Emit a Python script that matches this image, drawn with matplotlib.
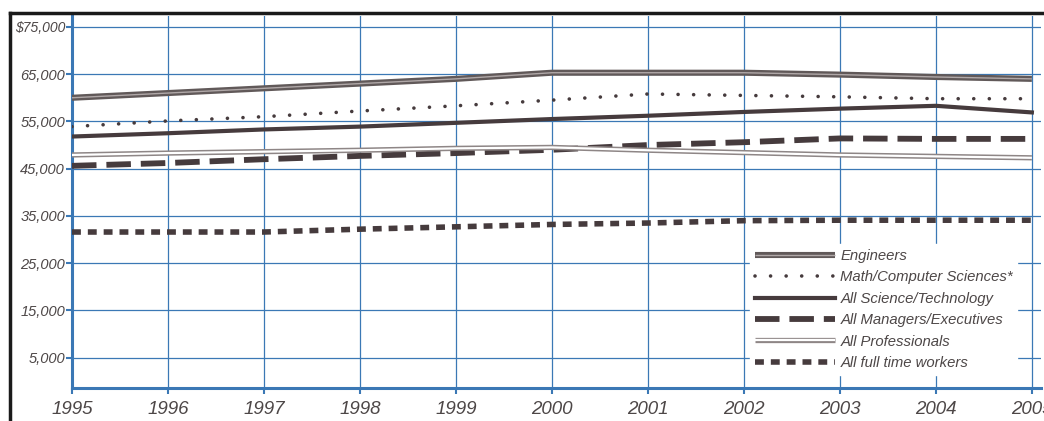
import matplotlib.pyplot as plt
import matplotlib.patheffects as pe
from matplotlib.lines import Line2D

years = [1995, 1996, 1997, 1998, 1999, 2000, 2001, 2002, 2003, 2004, 2005]
engineers = [60000, 61000, 62000, 63000, 64000, 65300, 65300, 65300, 64900, 64400, 64000]
math_cs = [53900, 55100, 56000, 57200, 58300, 59500, 60800, 60500, 60200, 59800, 59800]
sci_tech = [51800, 52500, 53300, 53900, 54700, 55500, 56200, 57000, 57700, 58300, 56900]
managers = [45600, 46200, 47000, 47700, 48300, 49000, 50000, 50600, 51400, 51300, 51300]
professionals = [47900, 48300, 48600, 48900, 49300, 49500, 48900, 48400, 47900, 47600, 47300]
all_workers = [31600, 31600, 31600, 32200, 32700, 33200, 33500, 34000, 34100, 34100, 34100]

labels = ["Engineers", "Math/Computer Sciences*", "All Science/Technology",
          "All Managers/Executives", "All Professionals", "All full time workers"]
yticks = [5000, 15000, 25000, 35000, 45000, 55000, 65000, 75000]

plt.rcParams['font.family'] = ['Liberation Sans', 'DejaVu Sans']
blue = "#3b78b5"
dark = "#463b3d"
txt = "#4d4747"

fig = plt.figure(figsize=(10.44, 4.21), dpi=100)
ax = fig.add_axes([72/1044, 33/421, (1041-72)/1044, (388-16)/421])

ax.set_xlim(1995, 2005.095)
ax.set_ylim(-1400, 77300)

# grid
for y in yticks:
    ax.axhline(y, color=blue, lw=0.9, zorder=1)
for x in years[1:]:
    ax.axvline(x, color=blue, lw=0.9, zorder=1)

# series
ax.plot(years, engineers, color="#b0a8a8", lw=1.0, zorder=3, solid_capstyle='butt',
        path_effects=[pe.Stroke(linewidth=4.4, foreground="#615959"), pe.Normal()],
        label=labels[0])
ax.plot(years, math_cs, color=dark, lw=2.6, ls=(0, (0.01, 4.3)), dash_capstyle='round',
        zorder=3, label=labels[1])
ax.plot(years, sci_tech, color=dark, lw=3.0, zorder=3, label=labels[2])
ax.plot(years, managers, color=dark, lw=4.2, ls=(0, (4.2, 1.7)), dash_capstyle='butt',
        zorder=3, label=labels[3])
ax.plot(years, professionals, color="white", lw=1.6, zorder=3, solid_capstyle='butt',
        path_effects=[pe.Stroke(linewidth=3.8, foreground="#8e8686"), pe.Normal()],
        label=labels[4])
ax.plot(years, all_workers, color=dark, lw=4.0, ls=(0, (1.6, 1.25)), dash_capstyle='butt',
        zorder=3, label=labels[5])

# axes
for s in ["top", "right"]:
    ax.spines[s].set_visible(False)
ax.spines["left"].set_color(blue)
ax.spines["left"].set_linewidth(2.2)
ax.spines["bottom"].set_color(blue)
ax.spines["bottom"].set_linewidth(2.2)

ax.set_xticks(years)
ax.set_xticklabels([str(y) for y in years], fontsize=13.5, style='italic', color=txt)
ax.set_yticks(yticks)
ax.set_yticklabels([f"{v:,}" for v in yticks[:-1]] + ["$75,000"], fontsize=10.5,
                   style='italic', color=txt)
ax.tick_params(axis='both', colors=blue, length=4, width=1.5, labelcolor=txt)
ax.tick_params(axis='y', pad=1)
ax.tick_params(axis='x', pad=5)
ax.get_yticklabels()[-1].set_fontsize(10)

leg = ax.legend(loc='upper left', bbox_to_anchor=(743/1044, 1 - 237/421),
                bbox_transform=fig.transFigure, frameon=True, fancybox=False,
                edgecolor='white', facecolor='white', framealpha=1,
                prop={'style': 'italic', 'size': 10.7}, handlelength=5.4,
                handletextpad=0.35, labelspacing=0.5, borderpad=0.3)
for t in leg.get_texts():
    t.set_color(txt)
leg.set_zorder(5)

# black frame
fig.add_artist(Line2D([10/1044, 10/1044], [0, 1 - 13/421], color="#1a1a1a", lw=2.5,
                      transform=fig.transFigure))
fig.add_artist(Line2D([10/1044, 1], [1 - 13/421, 1 - 13/421], color="#1a1a1a", lw=2.5,
                      transform=fig.transFigure))

fig.savefig("out.png", dpi=100)
